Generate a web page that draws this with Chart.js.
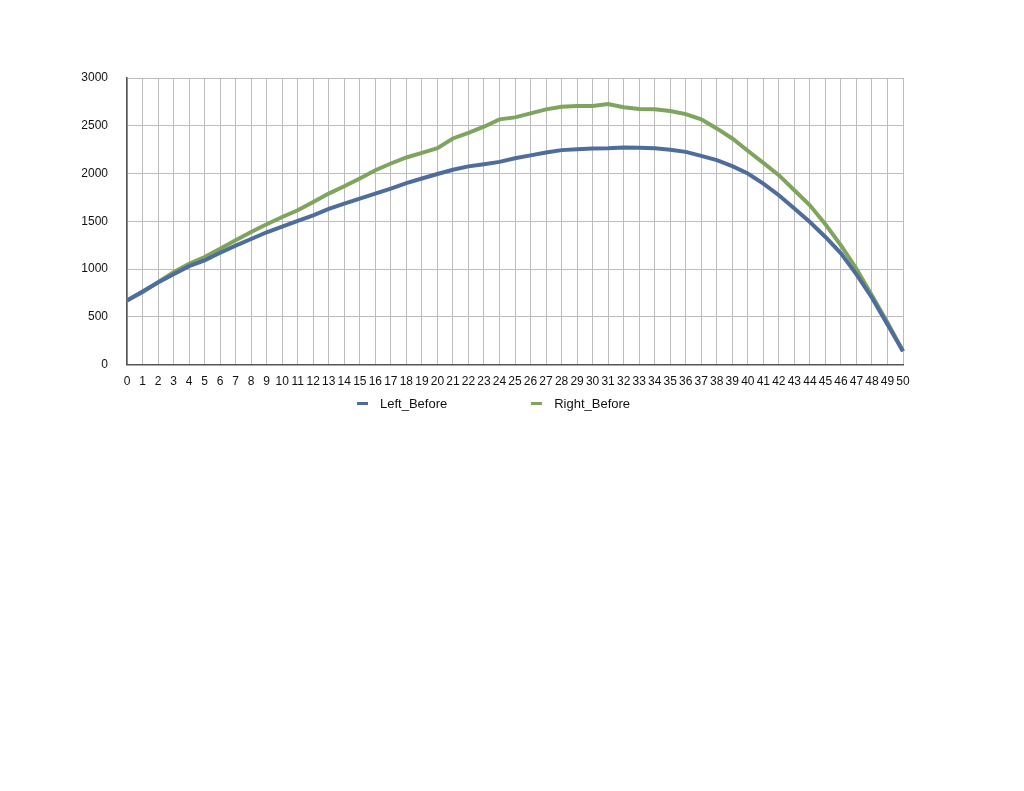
<!DOCTYPE html>
<html lang="en">
  <head>
    <meta charset="UTF-8" />
    <title>Left / Right Before</title>
    <script src="https://cdn.jsdelivr.net/npm/chart.js"></script>
    <style>
      body { margin: 0; background: #fff; font-family: 'Liberation Sans', Arial, sans-serif; }
      #wrap { position: absolute; left: 0; top: 0; width: 1024px; height: 401px; }
      #legend { position: absolute; left: 357px; top: 396px; display: flex; align-items: center; font-size: 13px; color: #111; }
      #legend .item { display: flex; align-items: center; margin-right: 84px; }
      #legend .mark { width: 11px; height: 3px; margin-right: 12px; }
    </style>
  </head>
  <body>
    <div id="wrap"><canvas id="beforeChart"></canvas></div>
    <div id="legend"></div>

    <script>
      const labels = [];
      for (let i = 0; i <= 50; i++) labels.push(String(i));

      const leftBefore = [
        671, 765, 860, 945, 1030, 1091, 1170, 1245, 1315, 1385,
        1445, 1505, 1563, 1630, 1686, 1738, 1790, 1843, 1900, 1948,
        1995, 2040, 2075, 2098, 2122, 2160, 2190, 2220, 2245, 2255,
        2262, 2265, 2273, 2270, 2265, 2250, 2227, 2185, 2140, 2077,
        2000, 1895, 1773, 1633, 1493, 1336, 1164, 945, 700, 420,
        140,
      ];
      const rightBefore = [
        671, 758, 863, 968, 1056, 1126, 1213, 1301, 1388, 1469,
        1545, 1615, 1703, 1790, 1867, 1948, 2035, 2105, 2168, 2217,
        2265, 2367, 2426, 2490, 2567, 2588, 2630, 2672, 2700, 2706,
        2706, 2727, 2693, 2675, 2672, 2654, 2622, 2567, 2472, 2367,
        2238, 2112, 1983, 1825, 1668, 1469, 1248, 1004, 724, 440,
        140,
      ];
      const yTicks = [0, 500, 1000, 1500, 2000, 2500, 3000];

      const ctx = document.getElementById('beforeChart').getContext('2d');
      const beforeChart = new Chart(ctx, {
        type: 'line',
        data: {
          labels: labels,
          datasets: [
            {
              label: 'Left_Before',
              data: leftBefore,
              borderColor: '#4e6d9c',
              backgroundColor: '#4e6d9c',
              borderWidth: 4,
              pointRadius: 0,
              fill: false,
            },
            {
              label: 'Right_Before',
              data: rightBefore,
              borderColor: '#7fa45e',
              backgroundColor: '#7fa45e',
              borderWidth: 4,
              pointRadius: 0,
              fill: false,
            },
          ],
        },
        options: {
          responsive: true,
          maintainAspectRatio: false,
          animation: false,
          layout: { padding: { left: 70, right: 121, top: 78, bottom: 2 } },
          plugins: {
            tooltip: { enabled: false },
            legend: { display: false },
          },
          scales: {
            x: {
              offset: false,
              grid: { color: '#bcbcbc', lineWidth: 1, drawTicks: false },
              border: { color: '#555', width: 1.5 },
              ticks: {
                autoSkip: false,
                maxRotation: 0,
                padding: 10,
                color: '#111',
                font: { family: 'Liberation Sans', size: 12 },
              },
            },
            y: {
              min: 0,
              max: 3000,
              afterFit: (scale) => { scale.width = 57; },
              afterBuildTicks: (scale) => {
                scale.ticks = yTicks.map((v) => ({ value: v }));
              },
              grid: { color: '#bcbcbc', lineWidth: 1, drawTicks: false },
              border: { color: '#555', width: 1.5 },
              ticks: {
                padding: 19,
                color: '#111',
                font: { family: 'Liberation Sans', size: 12 },
                callback: (v) => String(v),
              },
            },
          },
        },
      });

      // html legend built from the datasets
      const legend = document.getElementById('legend');
      beforeChart.data.datasets.forEach((ds) => {
        const item = document.createElement('div');
        item.className = 'item';
        const mark = document.createElement('span');
        mark.className = 'mark';
        mark.style.background = ds.borderColor;
        const text = document.createElement('span');
        text.textContent = ds.label;
        item.appendChild(mark);
        item.appendChild(text);
        legend.appendChild(item);
      });
    </script>
  </body>
</html>
